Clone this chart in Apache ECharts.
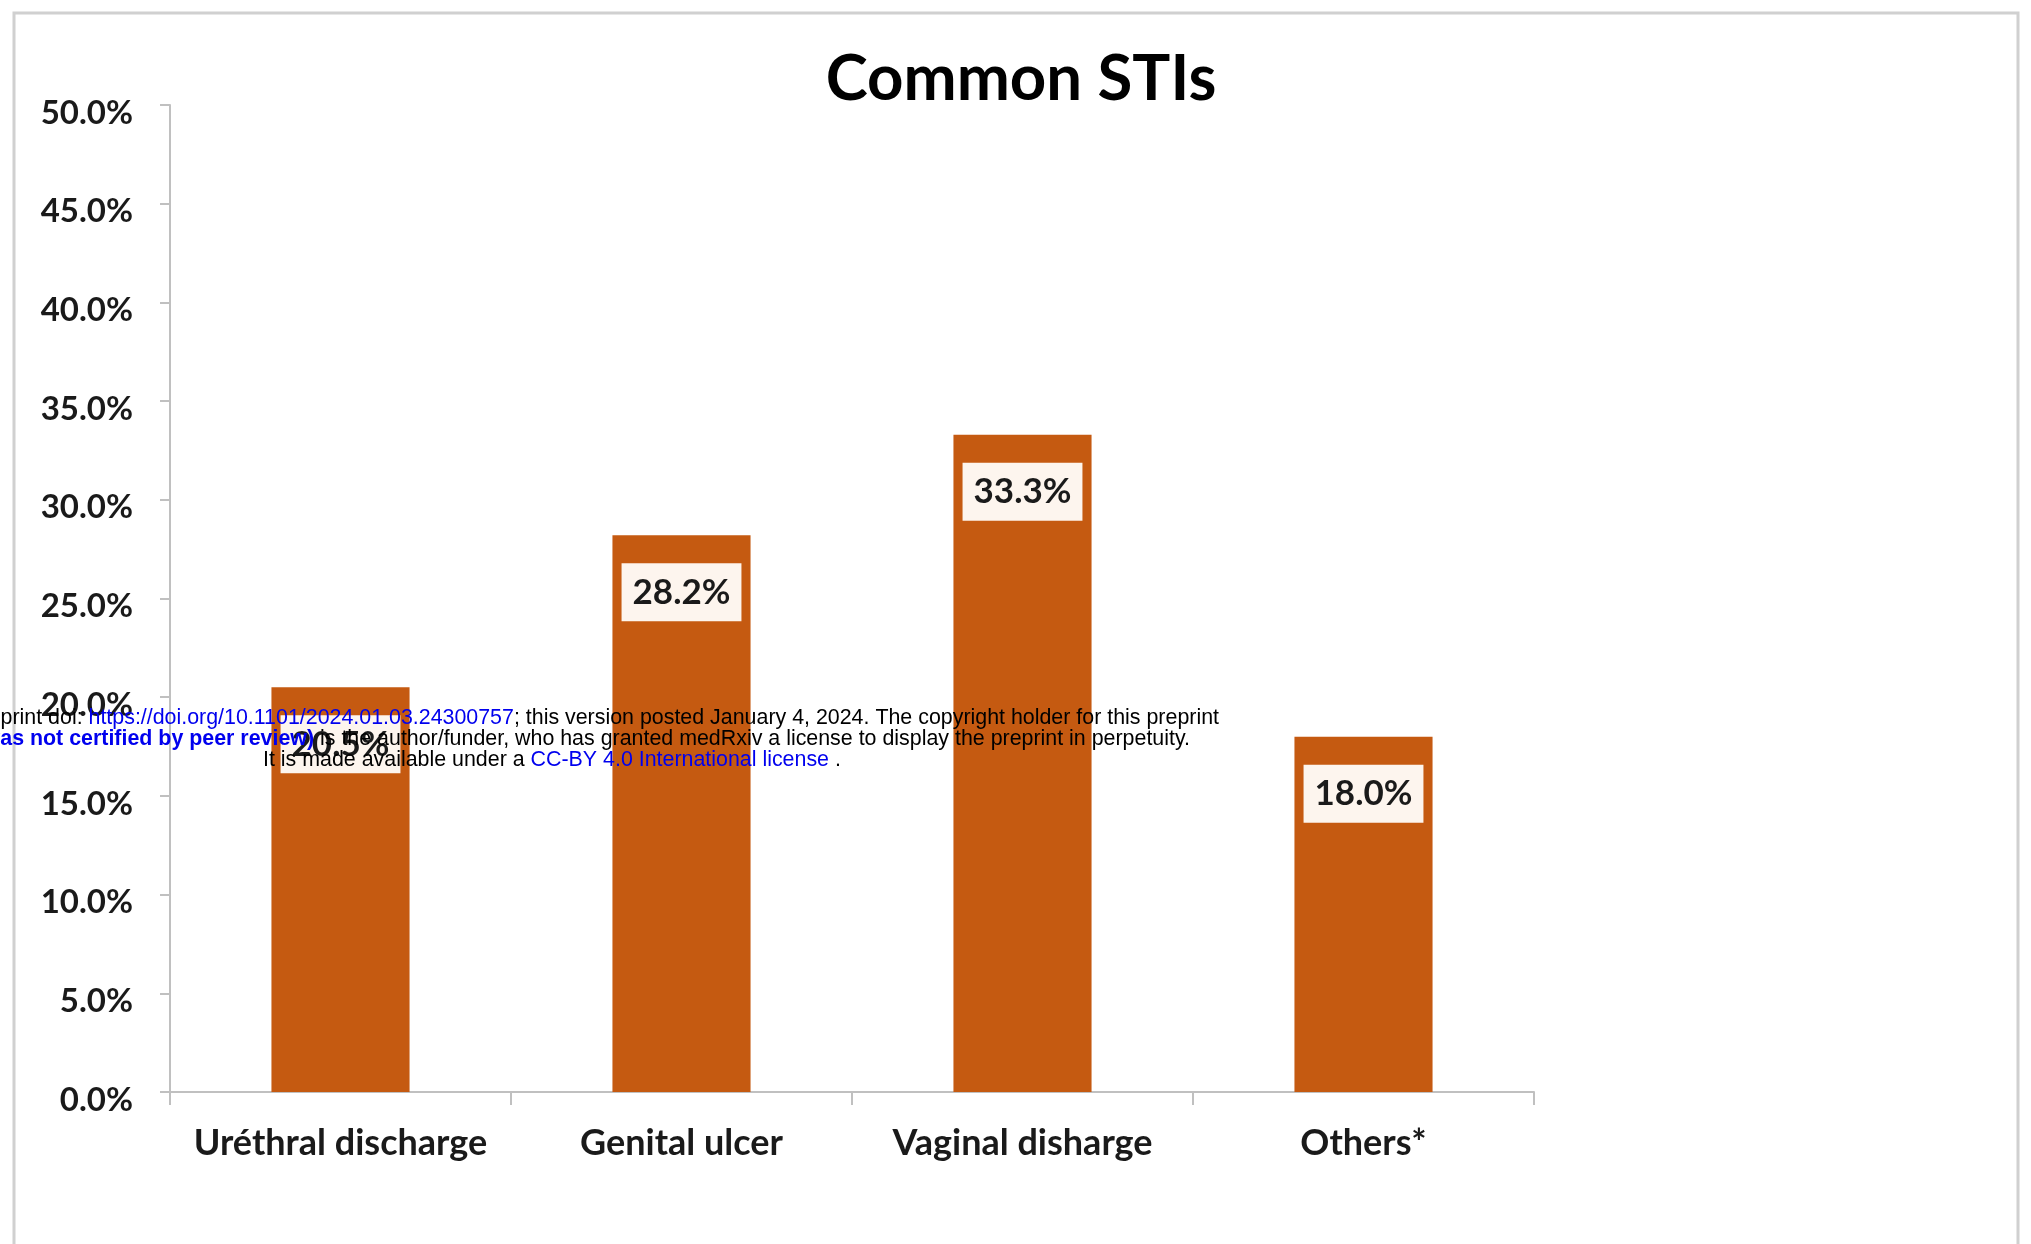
<!DOCTYPE html>
<html>
<head>
<meta charset="utf-8">
<script src="https://cdn.jsdelivr.net/npm/echarts@6/dist/echarts.min.js"></script>
<style>
  html, body { margin: 0; padding: 0; background: #ffffff; }
  #chart { width: 2031px; height: 1244px; }
</style>
</head>
<body>
<div id="chart"></div>
<script>
const titleText = 'Common STIs';
const categories = ['Uréthral discharge', 'Genital ulcer', 'Vaginal disharge', 'Others*'];
const values = [20.5, 28.2, 33.3, 18.0];
const yMin = 0, yMax = 50, yStep = 5;

const line1 = ['medRxiv preprint doi: ', 'https://doi.org/10.1101/2024.01.03.24300757', '; this version posted January 4, 2024. The copyright holder for this preprint'];
const line2 = ['(which was not certified by peer review)', ' is the author/funder, who has granted medRxiv a license to display the preprint in perpetuity.'];
const line3 = ['It is made available under a ', 'CC-BY 4.0 International license', ' .'];

const FONT = 'Lato';
const chart = echarts.init(document.getElementById('chart'), null, { renderer: 'canvas' });

const wmFont = 'Liberation Sans';
const wmSize = 21.4;
const BLUE = '#0000ee';

const option = {
  backgroundColor: '#ffffff',
  animation: false,
  title: {
    text: titleText,
    left: 1016,
    top: 43,
    textAlign: 'center',
    textStyle: { fontFamily: FONT, fontWeight: 'bold', fontSize: 63.5, color: '#000000' }
  },
  grid: { left: 170, right: 497, top: 105, bottom: 152, containLabel: false },
  xAxis: {
    type: 'category',
    data: categories,
    boundaryGap: true,
    axisLine: { show: true, lineStyle: { color: '#c0c0c0', width: 2 } },
    axisTick: { show: true, alignWithLabel: false, length: 13, lineStyle: { color: '#c0c0c0', width: 2 } },
    axisLabel: { margin: 33, fontFamily: FONT, fontWeight: 'bold', fontSize: 36, color: '#1a1a1a', interval: 0 },
    splitLine: { show: false }
  },
  yAxis: {
    type: 'value',
    min: yMin, max: yMax, interval: yStep,
    axisLine: { show: true, lineStyle: { color: '#c0c0c0', width: 2 } },
    axisTick: { show: true, length: 10, lineStyle: { color: '#c0c0c0', width: 2 } },
    axisLabel: {
      margin: 37,
      formatter: v => '{v|' + v.toFixed(1) + '%}',
      rich: {
        v: { fontFamily: FONT, fontWeight: 'bold', fontSize: 33, color: '#1a1a1a', padding: [16, 0, 0, 0] }
      }
    },
    splitLine: { show: false }
  },
  series: [{
    type: 'bar',
    data: values,
    barWidth: '40.5%',
    itemStyle: { color: '#c55a11' },
    label: {
      show: true,
      position: 'insideTop',
      distance: 28,
      formatter: p => p.value.toFixed(1) + '%',
      fontFamily: FONT, fontWeight: 'bold', fontSize: 35, color: '#1a1a1a',
      backgroundColor: '#fdf5ee',
      padding: [12, 11, 11, 11]
    }
  }],
  graphic: [
    {
      type: 'rect', z: 0, silent: true,
      shape: { x: 14, y: 13, width: 2004, height: 1300 },
      style: { fill: 'none', stroke: '#d0d0d0', lineWidth: 3 }
    },
    {
      type: 'text', z: 100, silent: true,
      x: 1219, y: 718,
      style: {
        text: '{a|' + line1[0] + '}{b|' + line1[1] + '}{a|' + line1[2] + '}',
        align: 'right', verticalAlign: 'middle',
        rich: {
          a: { fontFamily: wmFont, fontSize: wmSize, fill: '#000000' },
          b: { fontFamily: wmFont, fontSize: wmSize, fill: BLUE }
        }
      }
    },
    {
      type: 'text', z: 100, silent: true,
      x: 1190, y: 739,
      style: {
        text: '{b|' + line2[0] + '}{a|' + line2[1] + '}',
        align: 'right', verticalAlign: 'middle',
        rich: {
          a: { fontFamily: wmFont, fontSize: wmSize, fill: '#000000' },
          b: { fontFamily: wmFont, fontSize: wmSize, fontWeight: 'bold', fill: BLUE }
        }
      }
    },
    {
      type: 'text', z: 100, silent: true,
      x: 263, y: 760,
      style: {
        text: '{a|' + line3[0] + '}{b|' + line3[1] + '}{a|' + line3[2] + '}',
        align: 'left', verticalAlign: 'middle',
        rich: {
          a: { fontFamily: wmFont, fontSize: wmSize, fill: '#000000' },
          b: { fontFamily: wmFont, fontSize: wmSize, fill: BLUE }
        }
      }
    }
  ]
};
chart.setOption(option);
</script>
</body>
</html>
